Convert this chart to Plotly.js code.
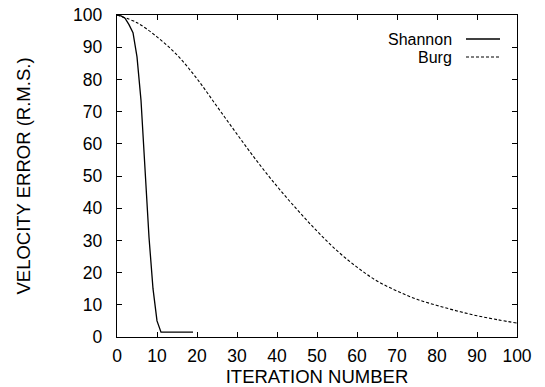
<!DOCTYPE html>
<html>
<head>
<meta charset="utf-8">
<script src="https://cdn.plot.ly/plotly-3.0.1.min.js"></script>
<style>html,body{margin:0;padding:0;background:#fff;}#chart{width:545px;height:387px;}</style>
</head>
<body>
<div id="chart"></div>
<script>
// Shannon series (iteration, rms velocity error)
const shannonX = [0,1,2,3,4,5,6,7,8,9,10,11,12,13,14,15,16,17,18,19];
const shannonY = [100,99.7,99,97,94.5,87,73.5,52,31,15,5,1.5,1.5,1.5,1.5,1.5,1.5,1.5,1.5,1.5];
// Burg series
const burgX = [0,5,10,15,20,25,30,35,40,45,50,55,60,65,70,75,80,85,90,95,100];
const burgY = [100,97.6,93.2,87.6,80.2,71.6,63,54.6,46.8,39.6,32.9,26.8,21.7,17.4,14.3,11.7,9.8,8.1,6.6,5.4,4.3];
const legendNames = ["Shannon","Burg"];
const xTicks = [0,10,20,30,40,50,60,70,80,90,100];
const yTicks = [0,10,20,30,40,50,60,70,80,90,100];

const FONT = "Liberation Sans, Arial, Helvetica, sans-serif";

const traces = [
  {x: shannonX, y: shannonY, type: "scatter", mode: "lines", name: legendNames[0],
   line: {color: "#000", width: 1.3}, showlegend: false},
  {x: burgX, y: burgY, type: "scatter", mode: "lines", name: legendNames[1],
   line: {color: "#000", width: 1.1, dash: "3px,2px", shape: "spline"}, showlegend: false}
];

const axisCommon = {
  showline: true, linecolor: "#000", linewidth: 1.3, mirror: "ticks",
  ticks: "inside", ticklen: 5, tickwidth: 1, tickcolor: "#000",
  showgrid: false, zeroline: false,
  tickfont: {family: FONT, size: 17.5, color: "#000"}
};

const LY1 = 39, LY2 = 57;

const layout = {
  width: 545, height: 387,
  margin: {l: 117, r: 28, t: 15, b: 50},
  paper_bgcolor: "#fff", plot_bgcolor: "#fff",
  xaxis: Object.assign({}, axisCommon, {
    range: [0, 100], tickvals: xTicks, ticktext: xTicks.map(String),
    ticklabelstandoff: 3,
    title: {text: "ITERATION NUMBER", font: {family: FONT, size: 18.5, color: "#000"}, standoff: 0}
  }),
  yaxis: Object.assign({}, axisCommon, {
    range: [0, 100], tickvals: yTicks, ticktext: yTicks.map(String),
    ticklabelstandoff: 10,
    title: {text: "VELOCITY ERROR (R.M.S.)", font: {family: FONT, size: 18.5, color: "#000"}, standoff: 37}
  }),
  annotations: [
    {xref: "paper", yref: "paper", x: (454-117)/400, y: 1 - (LY1-15)/322, xanchor: "right", yanchor: "middle",
     text: legendNames[0], showarrow: false, font: {family: FONT, size: 16, color: "#000"}},
    {xref: "paper", yref: "paper", x: (454-117)/400, y: 1 - (LY2-15)/322, xanchor: "right", yanchor: "middle",
     text: legendNames[1], showarrow: false, font: {family: FONT, size: 16, color: "#000"}}
  ],
  shapes: [
    {type: "line", xref: "paper", yref: "paper", x0: (466-117)/400, x1: (500-117)/400,
     y0: 1 - (LY1-15)/322, y1: 1 - (LY1-15)/322, line: {color: "#000", width: 1.3}},
    {type: "line", xref: "paper", yref: "paper", x0: (466-117)/400, x1: (500-117)/400,
     y0: 1 - (LY2-15)/322, y1: 1 - (LY2-15)/322, line: {color: "#000", width: 1.1, dash: "3px,2px"}}
  ]
};

Plotly.newPlot("chart", traces, layout, {displayModeBar: false, staticPlot: true});
</script>
</body>
</html>
